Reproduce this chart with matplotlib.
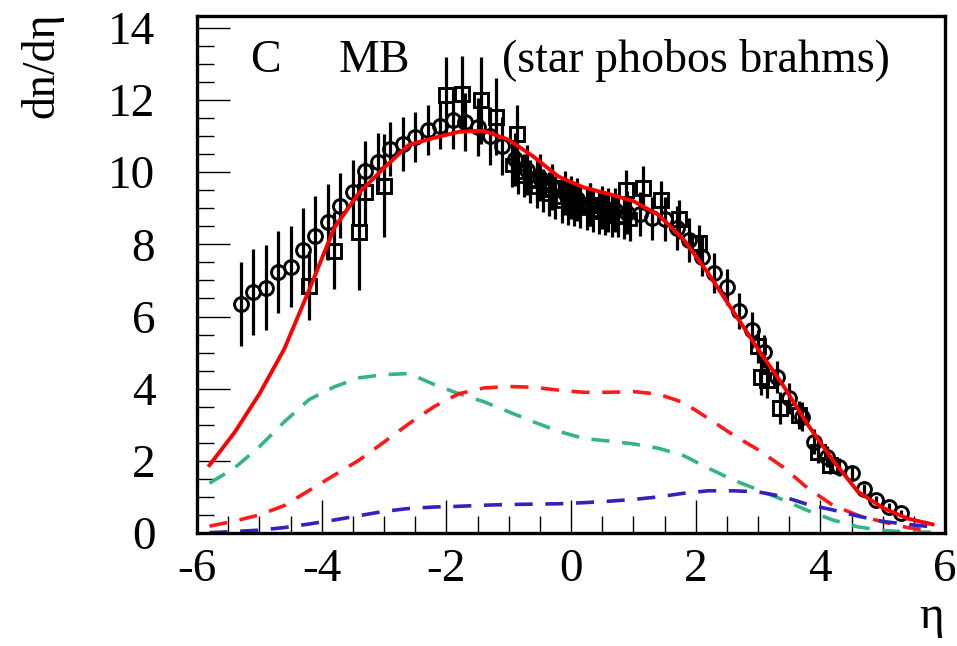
import matplotlib
matplotlib.use("Agg")
import matplotlib.pyplot as plt
from matplotlib.ticker import MultipleLocator

plt.rcParams['font.family'] = ['Liberation Serif', 'DejaVu Serif']
plt.rcParams['axes.unicode_minus'] = False

# PHOBOS-like circles
circ_eta = [-5.3, -5.1, -4.9, -4.7, -4.5, -4.3, -4.1, -3.9, -3.7, -3.5, -3.3, -3.1, -2.9, -2.7,
            -2.5, -2.3, -2.1, -1.9, -1.7, -1.5, -1.3, -1.1, -0.9, -0.7, -0.5, -0.3, -0.1,
            0.1, 0.3, 0.5, 0.7, 0.9, 1.1, 1.3, 1.5, 1.7, 1.9, 2.1, 2.3, 2.5, 2.7, 2.9, 3.1,
            3.3, 3.5, 3.7, 3.9, 4.1, 4.3, 4.5, 4.7, 4.9, 5.1, 5.3]
circ_val = [6.34, 6.69, 6.80, 7.23, 7.38, 7.85, 8.24, 8.61, 9.07, 9.44, 10.02, 10.29, 10.65, 10.78,
            10.97, 11.17, 11.28, 11.45, 11.40, 11.26, 11.01, 10.73, 10.36, 10.06, 9.85, 9.62, 9.42,
            9.25, 9.10, 9.02, 8.95, 8.88, 8.84, 8.72, 8.70, 8.45, 8.12, 7.66, 7.20, 6.83, 6.16, 5.63, 5.03,
            4.33, 3.73, 3.22, 2.53, 2.12, 1.84, 1.67, 1.21, 0.91, 0.73, 0.55]
circ_err = [1.16, 1.19, 1.18, 1.14, 1.12, 1.16, 1.10, 1.05, 0.90, 0.90, 0.85, 0.80, 0.75, 0.75,
            0.70, 0.70, 0.65, 0.80, 0.80, 0.80, 0.80, 0.80, 0.74, 0.70, 0.65, 0.60, 0.60,
            0.60, 0.60, 0.60, 0.60, 0.60, 0.60, 0.60, 0.60, 0.60, 0.60, 0.55, 0.55, 0.50, 0.50, 0.50, 0.45,
            0.45, 0.44, 0.40, 0.35, 0.30, 0.25, 0.20, 0.15, 0.12, 0.10, 0.08]

# STAR-like dense points near mid-rapidity
star_eta = [-0.95, -0.85, -0.75, -0.65, -0.55, -0.45, -0.35, -0.25, -0.15, -0.05,
            0.05, 0.15, 0.25, 0.35, 0.45, 0.55, 0.65, 0.75, 0.85, 0.95]
star_val = [10.2, 10.0, 9.9, 9.75, 9.6, 9.5, 9.4, 9.3, 9.2, 9.15,
            9.1, 9.05, 9.0, 8.95, 8.9, 8.85, 8.8, 8.8, 8.75, 8.7]
star_err = [0.6] * 20

# BRAHMS-like squares
sq_eta = [-4.2, -3.8, -3.4, -3.3, -3.0, -2.0, -1.75, -1.45, -1.2, -0.87, -0.55, -0.3, 0.0, 0.3, 0.6,
          0.88, 1.16, 1.45, 1.73, 2.06, 3.0, 3.05, 3.15, 3.35, 3.65, 3.96, 4.16]
sq_val = [6.86, 7.83, 8.34, 9.44, 9.63, 12.14, 12.16, 11.99, 11.54, 11.06, 9.8, 9.55, 9.3, 9.1, 8.95,
          9.50, 9.56, 9.22, 8.69, 8.03, 5.17, 4.33, 4.24, 3.46, 3.27, 2.25, 1.89]
sq_err = [0.95, 1.08, 1.60, 0.90, 1.42, 1.05, 1.05, 1.20, 1.06, 0.80, 0.6, 0.6, 0.6, 0.6, 0.6,
          0.55, 0.60, 0.55, 0.55, 0.50, 0.45, 0.50, 0.50, 0.45, 0.40, 0.30, 0.25]

# Model curves
curve_eta = [-5.8, -5.4, -5.0, -4.6, -4.2, -3.8, -3.4, -3.0, -2.6, -2.2, -1.8, -1.4, -1.0, -0.6,
             -0.2, 0.2, 0.6, 1.0, 1.4, 1.8, 2.2, 2.6, 3.0, 3.4, 3.8, 4.2, 4.6, 5.0, 5.4, 5.8]
total = [1.88, 2.78, 3.85, 5.10, 6.74, 8.45, 9.43, 10.12, 10.76, 10.95, 11.12, 11.15, 10.90, 10.43,
         9.88, 9.58, 9.40, 9.20, 8.82, 8.15, 7.20, 6.15, 5.10, 4.10, 3.00, 2.02, 1.15, 0.70, 0.40, 0.24]
green = [1.38, 1.80, 2.39, 3.08, 3.70, 4.05, 4.30, 4.39, 4.42, 4.12, 3.86, 3.64, 3.36, 3.08,
         2.82, 2.62, 2.55, 2.47, 2.35, 2.15, 1.80, 1.47, 1.20, 0.92, 0.62, 0.36, 0.17, 0.07, 0.03, 0.02]
red_d = [0.19, 0.33, 0.50, 0.76, 1.18, 1.60, 2.02, 2.52, 3.03, 3.50, 3.86, 4.02, 4.06, 4.04,
         3.96, 3.90, 3.90, 3.92, 3.85, 3.62, 3.18, 2.72, 2.31, 1.83, 1.24, 0.77, 0.49, 0.31, 0.15, 0.06]
blue_d = [0.01, 0.04, 0.08, 0.15, 0.25, 0.36, 0.48, 0.60, 0.68, 0.72, 0.74, 0.77, 0.79, 0.80,
          0.81, 0.84, 0.88, 0.93, 1.00, 1.10, 1.17, 1.17, 1.14, 1.01, 0.79, 0.64, 0.47, 0.32, 0.24, 0.17]

fig = plt.figure(figsize=(9.57, 6.46), dpi=100)
ax = fig.add_axes([197/957, 113/646, 748/957, 517/646])

dash = (0, (5, 3.5))
ax.plot(curve_eta, green, color='#33b586', lw=2.6, ls=dash, zorder=2)
ax.plot(curve_eta, red_d, color='#ff1a1a', lw=2.6, ls=dash, zorder=2)
ax.plot(curve_eta, blue_d, color='#3322bb', lw=2.6, ls=dash, zorder=2)

ekw = dict(fmt='none', ecolor='black', elinewidth=2.3, capsize=0, zorder=3)
ax.errorbar(circ_eta, circ_val, yerr=circ_err, **ekw)
ax.errorbar(star_eta, star_val, yerr=star_err, **ekw)
ax.errorbar(sq_eta, sq_val, yerr=sq_err, **ekw)
ax.plot(star_eta, star_val, ls='none', marker='s', ms=8, mfc='none', mec='black', mew=2.0, zorder=4)
ax.plot(sq_eta, sq_val, ls='none', marker='s', ms=9.5, mfc='none', mec='black', mew=2.1, zorder=4)
ax.plot(circ_eta, circ_val, ls='none', marker='o', ms=10, mfc='none', mec='black', mew=2.1, zorder=4)

ax.plot(curve_eta, total, color='#ff0000', lw=2.8, zorder=5)

ax.set_xlim(-6, 6)
ax.set_ylim(0, 14.33)
ax.xaxis.set_major_locator(MultipleLocator(2))
ax.xaxis.set_minor_locator(MultipleLocator(0.5))
ax.yaxis.set_major_locator(MultipleLocator(2))
ax.yaxis.set_minor_locator(MultipleLocator(0.5))
ax.tick_params(which='both', direction='in', top=False, right=False, width=1.0, labelsize=34)
ax.tick_params(which='major', length=24)
ax.tick_params(which='minor', length=12)
ax.tick_params(axis='x', pad=11)
ax.tick_params(axis='y', pad=30)
for s in ax.spines.values():
    s.set_linewidth(2.4)

ax.text(0.071, 0.892, 'C', transform=ax.transAxes, fontsize=33, va='baseline', ha='left')
ax.text(0.189, 0.892, 'MB', transform=ax.transAxes, fontsize=33, va='baseline', ha='left')
ax.text(0.408, 0.892, '(star phobos brahms)', transform=ax.transAxes, fontsize=33,
        va='baseline', ha='left')

fig.text(42/957, 1 - 12/646, 'dn/dη', rotation=90, fontsize=33, ha='center', va='top')
fig.text(944/957, 1 - 628/646, 'η', fontsize=34, ha='right', va='baseline')

fig.savefig('out.png', dpi=100)
